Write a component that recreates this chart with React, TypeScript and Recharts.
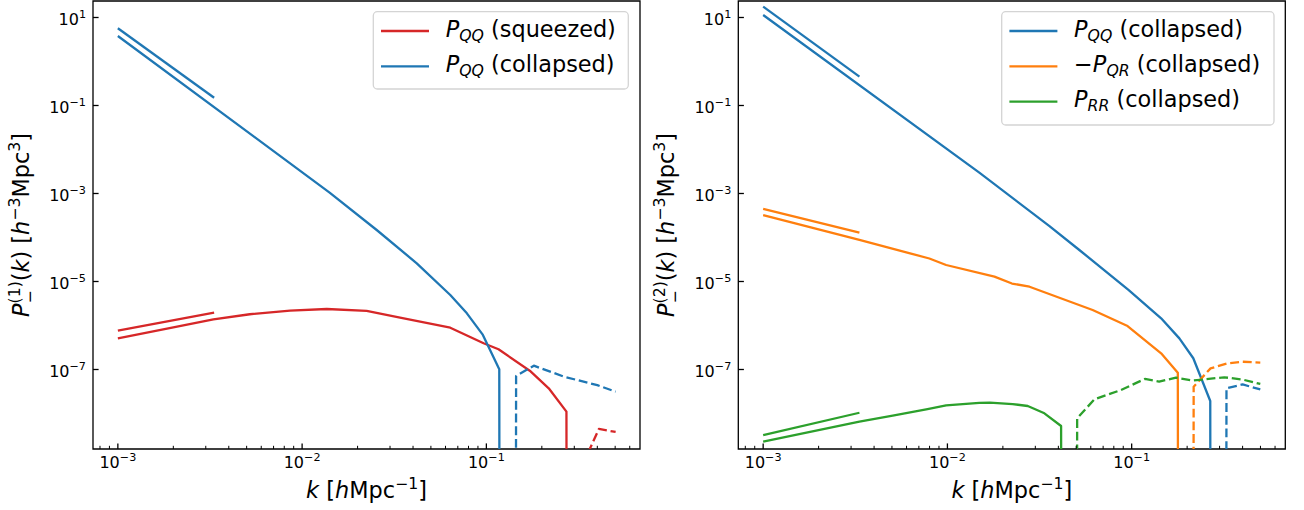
import { Label, Line, LineChart, ReferenceArea, XAxis, YAxis } from "recharts";

// axis ranges (log10 padding of 5% around 1e-3 .. 0.5)
const K_DOMAIN: [number, number] = [7.33e-4, 0.682];
const P_DOMAIN: [number, number] = [1.56e-9, 23.7];

const K_TICKS = [
  8e-4, 9e-4,
  1e-3, 2e-3, 3e-3, 4e-3, 5e-3, 6e-3, 7e-3, 8e-3, 9e-3,
  1e-2, 2e-2, 3e-2, 4e-2, 5e-2, 6e-2, 7e-2, 8e-2, 9e-2,
  1e-1, 2e-1, 3e-1, 4e-1, 5e-1, 6e-1,
];
const P_TICKS = [1e1, 1e-1, 1e-3, 1e-5, 1e-7];

// large-scale asymptotes are drawn over [1e-3, 3.33e-3]
const K_ASYMPTOTE = [1e-3, 3.33e-3];

// ---- first order, P_QQ squeezed (signed)
const K_QQ_SQUEEZED = [1e-3, 2e-3, 3.3e-3, 5.2e-3, 8.6e-3, 0.0136, 0.0224, 0.034, 0.0637, 0.0966, 0.1164, 0.172, 0.218, 0.272, 0.33, 0.408, 0.503];
const P_QQ_SQUEEZED = [5.1e-7, 9.1e-7, 1.38e-6, 1.8e-6, 2.17e-6, 2.37e-6, 2.14e-6, 1.51e-6, 8.9e-7, 3.94e-7, 2.88e-7, 9.4e-8, 3.74e-8, 1.1e-8, -6.3e-10, -4.45e-9, -3.8e-9];
const ASYM_QQ_SQUEEZED = [7.6e-7, 1.95e-6];

// ---- first order, P_QQ collapsed
const K_QQ_COLLAPSED_1 = [1e-3, 0.0141, 0.0254, 0.0419, 0.0637, 0.0784, 0.0953, 0.1175, 0.145, 0.181, 0.263, 0.4, 0.503];
const P_QQ_COLLAPSED_1 = [3.8, 1.05e-3, 1.48e-4, 2.59e-5, 4.93e-6, 1.89e-6, 6.3e-7, 1.01e-7, -7.1e-8, -1.22e-7, -6.9e-8, -4.4e-8, -3.13e-8];
const ASYM_QQ_COLLAPSED_1 = [5.7, 0.15];

// ---- second order, P_QQ collapsed
const K_QQ_COLLAPSED_2 = [1e-3, 0.0149, 0.0358, 0.052, 0.0964, 0.1445, 0.1815, 0.216, 0.267, 0.327, 0.4, 0.499];
const P_QQ_COLLAPSED_2 = [11.4, 2.97e-3, 1.82e-4, 5.2e-5, 6.4e-6, 1.46e-6, 5.1e-7, 1.8e-7, 1.92e-8, -3.74e-8, -4.58e-8, -3.53e-8];
const ASYM_QQ_COLLAPSED_2 = [17.6, 0.452];

// ---- second order, -P_QR collapsed
const K_QR = [1e-3, 3.33e-3, 7.98e-3, 9.84e-3, 0.018, 0.0224, 0.0279, 0.0614, 0.095, 0.1445, 0.178, 0.217, 0.268, 0.332, 0.4, 0.499];
const P_QR_NEG = [3.24e-4, 8.8e-5, 3.33e-5, 2.37e-5, 1.29e-5, 9.0e-6, 7.6e-6, 2.25e-6, 9.7e-7, 2.33e-7, 8.45e-8, -4.07e-8, -1.06e-7, -1.38e-7, -1.5e-7, -1.43e-7];
const ASYM_QR_NEG = [4.45e-4, 1.29e-4];

// ---- second order, P_RR collapsed
const K_RR = [1e-3, 3.33e-3, 5.05e-3, 7.8e-3, 9.84e-3, 0.0149, 0.017, 0.0226, 0.0273, 0.0336, 0.0414, 0.0506, 0.0628, 0.0875, 0.118, 0.141, 0.174, 0.214, 0.318, 0.4, 0.499];
const P_RR = [2.29e-9, 6.5e-9, 8.9e-9, 1.25e-8, 1.53e-8, 1.74e-8, 1.76e-8, 1.64e-8, 1.48e-8, 1.01e-8, 5.2e-9, -7.8e-9, -2.1e-8, -3.42e-8, -6.1e-8, -5.3e-8, -6.5e-8, -5.6e-8, -6.65e-8, -5.9e-8, -4.7e-8];
const ASYM_RR = [3.24e-9, 1.04e-8];

const BLUE = "#1f77b4";
const ORANGE = "#ff7f0e";
const GREEN = "#2ca02c";
const RED = "#d62728";
const INK = "#000000";

const TICK_FS = 16;
const TICK_SUP_FS = 11.2;
const LABEL_FS = 22.4;
const LABEL_SUB_FS = 15.7;
const LINE_W = 2.3;
const DASH = "8.9 3.8";

// non-positive values go to a tiny floor, like matplotlib's log clipping,
// so the curve falls straight off the bottom of the axes
const FLOOR = 1e-300;

type Pt = { k: number; v: number };
type Series = { id: string; color: string; k: number[]; p: number[]; asym: number[]; label: React.ReactNode };

function signedPart(k: number[], p: number[], sign: number): Pt[] {
  return k.map((kk, i) => ({ k: kk, v: sign * p[i] > 0 ? sign * p[i] : FLOOR }));
}

function isDecade(v: number) {
  const e = Math.log10(v);
  return Math.abs(e - Math.round(e)) < 1e-6;
}

function expText(v: number) {
  const e = Math.round(Math.log10(v));
  return e < 0 ? `\u2212${-e}` : String(e);
}

function KTick(props: any) {
  const { x, y, payload } = props;
  const major = isDecade(payload.value);
  return (
    <g>
      <line x1={x} x2={x} y1={y} y2={y - (major ? 5.6 : 3.2)} stroke={INK} strokeWidth={major ? 1.3 : 1} />
      {major && (
        <text x={x} y={y + 19} textAnchor="middle" fontSize={TICK_FS} fill={INK}>
          10<tspan dy={-6.6} fontSize={TICK_SUP_FS}>{expText(payload.value)}</tspan>
        </text>
      )}
    </g>
  );
}

function PTick(props: any) {
  const { x, y, payload } = props;
  return (
    <g>
      <line x1={x} x2={x + 5.6} y1={y} y2={y} stroke={INK} strokeWidth={1.3} />
      <text x={x - 7} y={y + 7.2} textAnchor="end" fontSize={TICK_FS} fill={INK}>
        10<tspan dy={-6.6} fontSize={TICK_SUP_FS}>{expText(payload.value)}</tspan>
      </text>
    </g>
  );
}

function KTitle(props: any) {
  const { x, y, width } = props.viewBox;
  return (
    <text x={x + width / 2} y={y + 49} textAnchor="middle" fontSize={LABEL_FS} fill={INK}>
      <tspan fontStyle="italic">k</tspan> [<tspan fontStyle="italic">h</tspan>Mpc
      <tspan dy={-9} fontSize={LABEL_SUB_FS}>{"\u22121"}</tspan>
      <tspan dy={9}>]</tspan>
    </text>
  );
}

function makePTitle(order: number) {
  return function PTitle(props: any) {
    const { x, y, height } = props.viewBox;
    const cx = x - 63;
    const cy = y + height / 2;
    return (
      <text x={cx} y={cy} transform={`rotate(-90 ${cx} ${cy})`} textAnchor="middle" fontSize={LABEL_FS} fill={INK}>
        <tspan fontStyle="italic">P</tspan>
        <tspan dy={-9} fontSize={LABEL_SUB_FS}>({order})</tspan>
        <tspan dx={-22.2} dy={14.7} fontSize={LABEL_SUB_FS}>{"\u2212"}</tspan>
        <tspan dx={9} dy={-5.7}>(</tspan>
        <tspan fontStyle="italic">k</tspan>
        <tspan>) [</tspan>
        <tspan fontStyle="italic">h</tspan>
        <tspan dy={-9} fontSize={LABEL_SUB_FS}>{"\u22123"}</tspan>
        <tspan dy={9}>Mpc</tspan>
        <tspan dy={-9} fontSize={LABEL_SUB_FS}>3</tspan>
        <tspan dy={9}>]</tspan>
      </text>
    );
  };
}

function entry(sub: string, tail: string, minus = false) {
  return (
    <>
      {minus ? "\u2212" : null}
      <tspan fontStyle="italic">P</tspan>
      <tspan dy={4} fontSize={LABEL_SUB_FS} fontStyle="italic">{sub}</tspan>
      <tspan dy={-4}>{` (${tail})`}</tspan>
    </>
  );
}

const LEFT_SERIES: Series[] = [
  { id: "sq", color: RED, k: K_QQ_SQUEEZED, p: P_QQ_SQUEEZED, asym: ASYM_QQ_SQUEEZED, label: entry("QQ", "squeezed") },
  { id: "co", color: BLUE, k: K_QQ_COLLAPSED_1, p: P_QQ_COLLAPSED_1, asym: ASYM_QQ_COLLAPSED_1, label: entry("QQ", "collapsed") },
];

const RIGHT_SERIES: Series[] = [
  { id: "qq", color: BLUE, k: K_QQ_COLLAPSED_2, p: P_QQ_COLLAPSED_2, asym: ASYM_QQ_COLLAPSED_2, label: entry("QQ", "collapsed") },
  { id: "qr", color: ORANGE, k: K_QR, p: P_QR_NEG, asym: ASYM_QR_NEG, label: entry("QR", "collapsed", true) },
  { id: "rr", color: GREEN, k: K_RR, p: P_RR, asym: ASYM_RR, label: entry("RR", "collapsed") },
];

type Box = { x: number; y: number; w: number; h: number };

function LegendOverlay({ width, box, series }: { width: number; box: Box; series: Series[] }) {
  return (
    <svg width={width} height={510} style={{ position: "absolute", left: 0, top: 0, pointerEvents: "none" }}>
      <rect x={box.x} y={box.y} width={box.w} height={box.h} rx={4} fill="rgba(255,255,255,0.8)" stroke="#d4d4d4" strokeWidth={1.3} />
      {series.map((s, i) => {
        const y = box.y + 19.3 + i * 35.3;
        return (
          <g key={s.id}>
            <line x1={box.x + 7.7} x2={box.x + 55.7} y1={y} y2={y} stroke={s.color} strokeWidth={LINE_W} />
            <text x={box.x + 72.4} y={y + 5.7} fontSize={LABEL_FS} fill={INK}>
              {s.label}
            </text>
          </g>
        );
      })}
    </svg>
  );
}

function Panel({
  left,
  width,
  margin,
  order,
  series,
  legend,
}: {
  left: number;
  width: number;
  margin: { top: number; right: number; bottom: number; left: number };
  order: number;
  series: Series[];
  legend: Box;
}) {
  const lines = series.flatMap((s) => [
    <Line
      key={`${s.id}-pos`}
      data={signedPart(s.k, s.p, 1)}
      dataKey="v"
      type="linear"
      stroke={s.color}
      strokeWidth={LINE_W}
      strokeLinejoin="round"
      dot={false}
      activeDot={false}
      isAnimationActive={false}
    />,
    <Line
      key={`${s.id}-neg`}
      data={signedPart(s.k, s.p, -1)}
      dataKey="v"
      type="linear"
      stroke={s.color}
      strokeWidth={LINE_W}
      strokeDasharray={DASH}
      strokeLinejoin="round"
      dot={false}
      activeDot={false}
      isAnimationActive={false}
    />,
    <Line
      key={`${s.id}-asym`}
      data={K_ASYMPTOTE.map((k, i) => ({ k, v: s.asym[i] }))}
      dataKey="v"
      type="linear"
      stroke={s.color}
      strokeWidth={LINE_W}
      dot={false}
      activeDot={false}
      isAnimationActive={false}
    />,
  ]);

  return (
    <div style={{ position: "absolute", left, top: 0, width, height: 510 }}>
      <LineChart width={width} height={510} margin={margin}>
        <XAxis
          dataKey="k"
          type="number"
          scale="log"
          domain={K_DOMAIN}
          allowDataOverflow
          ticks={K_TICKS}
          interval={0}
          height={1}
          tickSize={0}
          tickMargin={0}
          tickLine={false}
          axisLine={false}
          tick={KTick}
        >
          <Label content={KTitle} />
        </XAxis>
        <YAxis
          type="number"
          scale="log"
          domain={P_DOMAIN}
          allowDataOverflow
          ticks={P_TICKS}
          interval={0}
          width={1}
          tickSize={0}
          tickMargin={0}
          tickLine={false}
          axisLine={false}
          tick={PTick}
        >
          <Label content={makePTitle(order)} />
        </YAxis>
        {lines}
        <ReferenceArea
          x1={K_DOMAIN[0]}
          x2={K_DOMAIN[1]}
          y1={P_DOMAIN[0]}
          y2={P_DOMAIN[1]}
          fill="none"
          fillOpacity={0}
          stroke={INK}
          strokeWidth={1.3}
          ifOverflow="visible"
        />
      </LineChart>
      <LegendOverlay width={width} box={legend} series={series} />
    </div>
  );
}

export default function App() {
  return (
    <div
      style={{
        position: "absolute",
        left: 0,
        top: 0,
        width: 1304,
        height: 510,
        background: "#ffffff",
        fontFamily: "'DejaVu Sans', sans-serif",
      }}
    >
      <Panel
        left={0}
        width={650}
        margin={{ top: 1, right: 10, bottom: 60, left: 92 }}
        order={1}
        series={LEFT_SERIES}
        legend={{ x: 373.3, y: 11.7, w: 255, h: 77.3 }}
      />
      <Panel
        left={650}
        width={654}
        margin={{ top: 1, right: 18.7, bottom: 60, left: 87.3 }}
        order={2}
        series={RIGHT_SERIES}
        legend={{ x: 351.7, y: 11.7, w: 272.3, h: 113.3 }}
      />
    </div>
  );
}
